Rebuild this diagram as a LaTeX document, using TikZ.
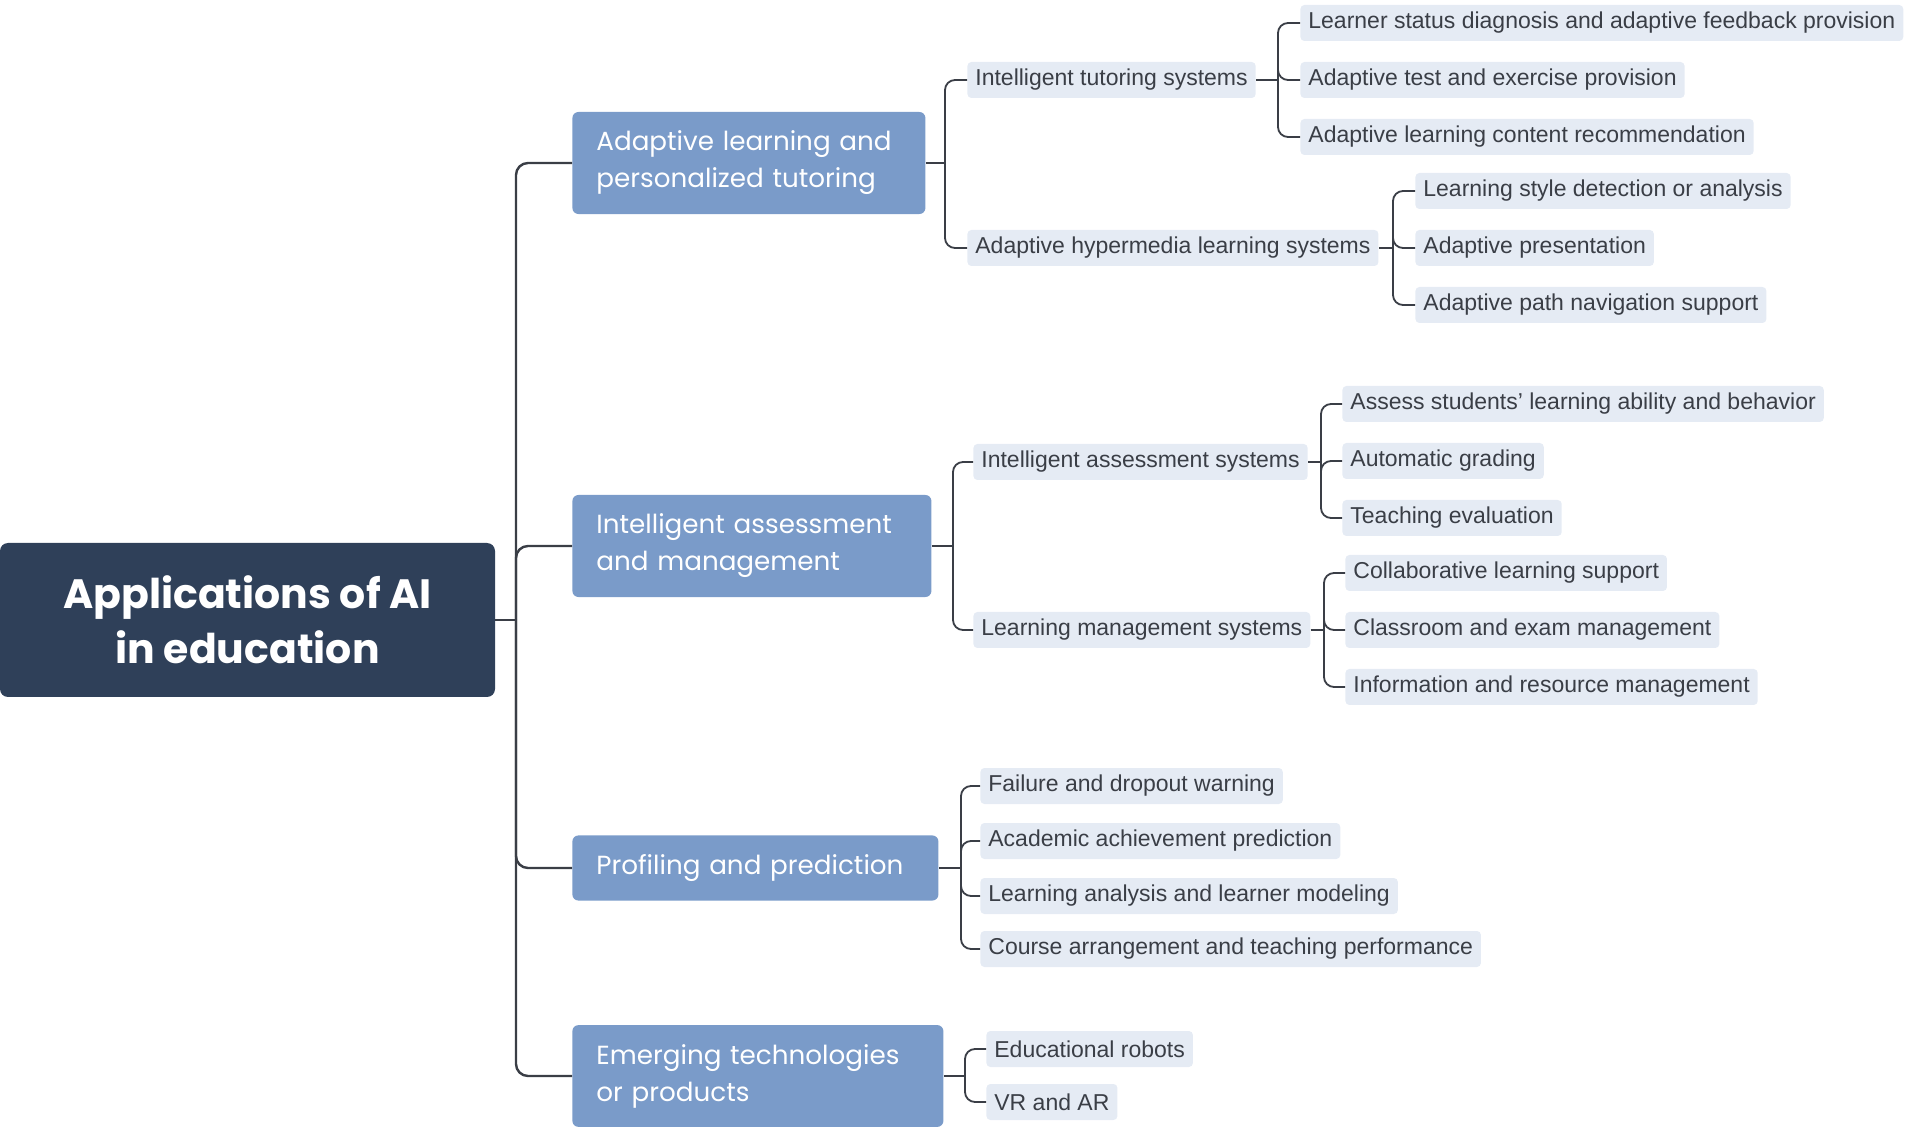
\documentclass[tikz,border=0pt]{standalone}
\usepackage{fontspec}
\setmainfont{Liberation Sans}
\newfontfamily\headfont{Poppins}
\usetikzlibrary{positioning}
\definecolor{rootnavy}{RGB}{47,64,89}
\definecolor{topicblue}{RGB}{122,155,201}
\definecolor{leafgrey}{RGB}{229,235,244}
\definecolor{leaftext}{RGB}{58,62,70}
\definecolor{linkgrey}{RGB}{58,62,70}
\begin{document}
\begin{tikzpicture}[x=0.5pt, y=-0.5pt,
  rootbox/.style={fill=rootnavy, text=white, rounded corners=4pt, font=\headfont\bfseries\fontsize{20.5}{27.5}\selectfont, align=center, minimum width=247.5pt, minimum height=77pt},
  topicbox/.style={anchor=west, fill=topicblue, text=white, rounded corners=3pt, font=\headfont\fontsize{13.1}{18.5}\selectfont, align=left, inner xsep=12pt, inner ysep=9.5pt, minimum height=32pt},
  leafbox/.style={anchor=west, fill=leafgrey, text=leaftext, rounded corners=2pt, font=\fontsize{11.5}{13}\selectfont, inner xsep=4pt, minimum height=18pt},
  trunk/.style={draw=linkgrey, line width=1.2pt, rounded corners=6pt},
  link/.style={draw=linkgrey, line width=0.9pt, rounded corners=5pt}]

\useasboundingbox (0,0) rectangle (1908,1128);

% root and main topics
\node[rootbox] (root) at (247.5,620) {Applications of AI\\in education};

\node[topicbox, text width=152.5pt] (adapt) at (572,163) {Adaptive learning and\\personalized tutoring};
\node[topicbox, text width=155.5pt] (assess) at (572,546) {Intelligent assessment\\and management};
\node[topicbox, text width=159pt] (profile) at (572,868) {Profiling and prediction};
\node[topicbox, text width=161.5pt] (emerge) at (572,1076) {Emerging technologies\\or products};

\coordinate (rootfork) at (516,0 |- root.east);
\draw[trunk] (root.east) -- (rootfork);
\foreach \t in {adapt,assess,profile,emerge}
  \draw[trunk] (rootfork) |- (\t.west);

% adaptive learning
\node[leafbox] (its) at (967,80) {Intelligent tutoring systems};
\node[leafbox] (ahls) at (967,248) {Adaptive hypermedia learning systems};

\node[leafbox] (its1) at (1300,23) {Learner status diagnosis and adaptive feedback provision};
\node[leafbox] (its2) at (1300,80) {Adaptive test and exercise provision};
\node[leafbox] (its3) at (1300,137) {Adaptive learning content recommendation};

\node[leafbox] (ahls1) at (1415,191) {Learning style detection or analysis};
\node[leafbox] (ahls2) at (1415,248) {Adaptive presentation};
\node[leafbox] (ahls3) at (1415,305) {Adaptive path navigation support};

% assessment and management
\node[leafbox] (ias) at (973,462) {Intelligent assessment systems};
\node[leafbox] (lms) at (973,630) {Learning management systems};

\node[leafbox] (ias1) at (1342,404) {Assess students' learning ability and behavior};
\node[leafbox] (ias2) at (1342,461) {Automatic grading};
\node[leafbox] (ias3) at (1342,518) {Teaching evaluation};

\node[leafbox] (lms1) at (1345,573) {Collaborative learning support};
\node[leafbox] (lms2) at (1345,630) {Classroom and exam management};
\node[leafbox] (lms3) at (1345,687) {Information and resource management};

% profiling
\node[leafbox] (pro1) at (980,786) {Failure and dropout warning};
\node[leafbox] (pro2) at (980,841) {Academic achievement prediction};
\node[leafbox] (pro3) at (980,896) {Learning analysis and learner modeling};
\node[leafbox] (pro4) at (980,949) {Course arrangement and teaching performance};

% emerging technologies
\node[leafbox] (emg1) at (986,1049) {Educational robots};
\node[leafbox] (emg2) at (986,1102) {VR and AR};

% forks
\coordinate (adaptfork) at (945,0 |- adapt.east);
\coordinate (assessfork) at (953,0 |- assess.east);
\coordinate (profilefork) at (961,0 |- profile.east);
\coordinate (emergefork) at (965,0 |- emerge.east);
\coordinate (itsfork) at (1278,0 |- its.east);
\coordinate (ahlsfork) at (1393,0 |- ahls.east);
\coordinate (iasfork) at (1321,0 |- ias.east);
\coordinate (lmsfork) at (1324,0 |- lms.east);

\draw[link] (adapt.east) -- (adaptfork);
\foreach \c in {its,ahls} \draw[link] (adaptfork) |- (\c.west);
\draw[link] (its.east) -- (itsfork);
\foreach \c in {its1,its2,its3} \draw[link] (itsfork) |- (\c.west);
\draw[link] (ahls.east) -- (ahlsfork);
\foreach \c in {ahls1,ahls2,ahls3} \draw[link] (ahlsfork) |- (\c.west);

\draw[link] (assess.east) -- (assessfork);
\foreach \c in {ias,lms} \draw[link] (assessfork) |- (\c.west);
\draw[link] (ias.east) -- (iasfork);
\foreach \c in {ias1,ias2,ias3} \draw[link] (iasfork) |- (\c.west);
\draw[link] (lms.east) -- (lmsfork);
\foreach \c in {lms1,lms2,lms3} \draw[link] (lmsfork) |- (\c.west);

\draw[link] (profile.east) -- (profilefork);
\foreach \c in {pro1,pro2,pro3,pro4} \draw[link] (profilefork) |- (\c.west);

\draw[link] (emerge.east) -- (emergefork);
\foreach \c in {emg1,emg2} \draw[link] (emergefork) |- (\c.west);

\end{tikzpicture}
\end{document}
